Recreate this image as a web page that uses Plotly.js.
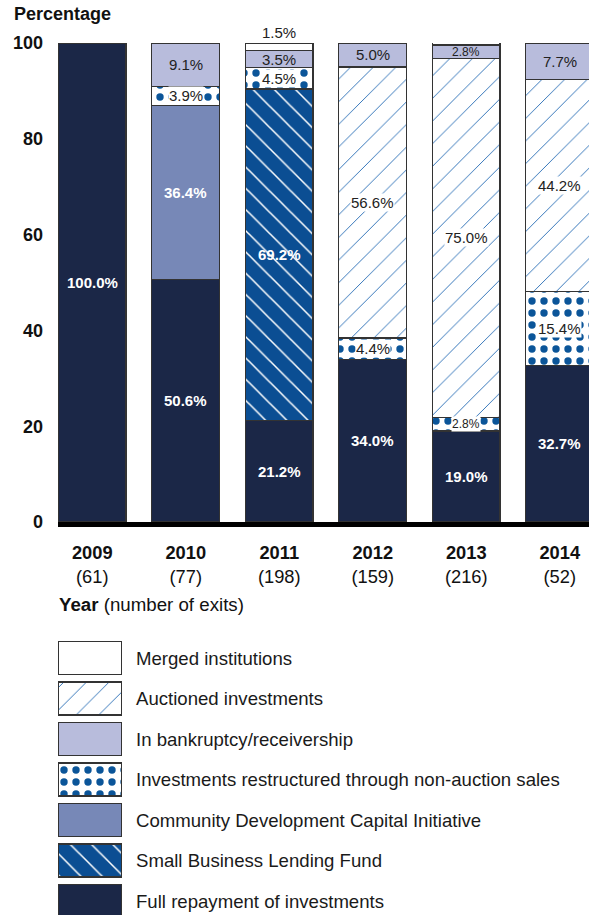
<!DOCTYPE html>
<html>
<head>
<meta charset="utf-8">
<script src="https://cdn.plot.ly/plotly-3.0.1.min.js"></script>
<style>html,body{margin:0;padding:0;background:#fff;overflow:hidden}#chart{width:589px;height:915px}</style>
</head>
<body>
<div id="chart"></div>
<script>
// ---- data ----
const years = ['2009', '2010', '2011', '2012', '2013', '2014'];
const exits = [61, 77, 198, 159, 216, 52];
const fullRepayment = [100.0, 50.6, 21.2, 34.0, 19.0, 32.7];
const smallBusinessLendingFund = [0, 0, 69.2, 0, 0, 0];
const communityDevelopment = [0, 36.4, 0, 0, 0, 0];
const restructured = [0, 3.9, 4.5, 4.4, 2.8, 15.4];
const auctioned = [0, 0, 0, 56.6, 75.0, 44.2];
const bankruptcy = [0, 9.1, 3.5, 5.0, 2.8, 7.7];
const merged = [0, 0, 1.5, 0, 0.5, 0];
const yTicks = [0, 20, 40, 60, 80, 100];
const legendOrder = ['Merged institutions', 'Auctioned investments', 'In bankruptcy/receivership',
  'Investments restructured through non-auction sales', 'Community Development Capital Initiative',
  'Small Business Lending Fund', 'Full repayment of investments'];

// ---- styles ----
const FONT = 'Liberation Sans, Arial, sans-serif';
const NAVY = '#1B2747';
const series = [
  {name: 'Full repayment of investments', y: fullRepayment, color: NAVY, pattern: null, label: 'light'},
  {name: 'Small Business Lending Fund', y: smallBusinessLendingFund, color: '#0B4E93',
    pattern: {shape: '\\', bgcolor: '#0B4E93', fgcolor: '#ffffff', size: 15, solidity: 0.1, fillmode: 'replace'}, label: 'light'},
  {name: 'Community Development Capital Initiative', y: communityDevelopment, color: '#7788B7', pattern: null, label: 'light'},
  {name: 'Investments restructured through non-auction sales', y: restructured, color: '#ffffff',
    pattern: {shape: '.', bgcolor: '#ffffff', fgcolor: '#0B5599', size: 12, solidity: 0.3, fillmode: 'replace'}, label: 'boxed'},
  {name: 'Auctioned investments', y: auctioned, color: '#ffffff',
    pattern: {shape: '/', bgcolor: '#ffffff', fgcolor: '#2F72B8', size: 16, solidity: 0.06, fillmode: 'replace'}, label: 'boxed'},
  {name: 'In bankruptcy/receivership', y: bankruptcy, color: '#B8BCDC', pattern: null, label: 'dark'},
  {name: 'Merged institutions', y: merged, color: '#ffffff', pattern: null, label: 'outside'}
];

const xIdx = years.map((_, i) => i);
const outline = {color: '#333333', width: 1.2};
function markerFor(s) {
  const m = {color: s.color, line: outline};
  if (s.pattern) m.pattern = s.pattern;
  return m;
}

const traces = [];
const annotations = [];
const cum = years.map(() => 0);
series.forEach(s => {
  traces.push({
    type: 'bar', name: s.name, x: xIdx, y: s.y.map(v => v > 0 ? v : null),
    width: 0.724, marker: markerFor(s), hoverinfo: 'skip', showlegend: false,
    xaxis: 'x', yaxis: 'y'
  });
  s.y.forEach((v, i) => {
    if (v > 0) {
      const txt = v.toFixed(1) + '%';
      const small = v < 3;
      const a = {x: i, xref: 'x', yref: 'y', showarrow: false, text: txt,
        font: {family: FONT, size: small ? 12 : 15, color: '#222'}};
      if (s.label === 'light') {
        a.y = cum[i] + v / 2; a.text = '<b>' + txt + '</b>'; a.font.color = '#ffffff';
      } else if (s.label === 'boxed') {
        a.y = cum[i] + v / 2; a.bgcolor = '#ffffff'; a.borderpad = 0;
      } else if (s.label === 'dark') {
        a.y = cum[i] + v / 2;
      } else {
        a.y = cum[i] + v; a.yanchor = 'bottom'; a.yshift = 0; a.font.size = 15;
      }
      annotations.push(a);
    }
    cum[i] += v;
  });
});

// legend swatches drawn as a small second subplot
legendOrder.forEach((name, k) => {
  const s = series.find(t => t.name === name);
  traces.push({
    type: 'bar', orientation: 'h', x: [1], y: [k], width: 0.815,
    marker: markerFor(s), hoverinfo: 'skip', showlegend: false,
    xaxis: 'x2', yaxis: 'y2'
  });
});

annotations.push({xref: 'paper', yref: 'paper', x: (12 - 58) / 531, y: (915 - 14) / 872,
  xanchor: 'left', yanchor: 'middle', showarrow: false, text: '<b>Percentage</b>',
  font: {family: FONT, size: 18, color: '#111'}});
annotations.push({xref: 'paper', yref: 'paper', x: (57 - 58) / 531, y: (915 - 604) / 872,
  xanchor: 'left', yanchor: 'middle', showarrow: false, text: '<b>Year</b> (number of exits)',
  font: {family: FONT, size: 18.7, color: '#111'}});

const layout = {
  width: 589, height: 915,
  margin: {l: 58, r: 0, t: 43, b: 0, pad: 0},
  paper_bgcolor: '#ffffff', plot_bgcolor: 'rgba(0,0,0,0)',
  barmode: 'stack', showlegend: false,
  font: {family: FONT, color: '#111'},
  xaxis: {
    domain: [0, 1], anchor: 'y', range: [-0.366, 5.313], fixedrange: true,
    tickvals: xIdx, ticktext: years.map((y, i) => '<b>' + y + '</b><br>(' + exits[i] + ')'),
    tickfont: {family: FONT, size: 18.3, color: '#111'},
    ticks: '', showgrid: false, zeroline: false,
    showline: true, linecolor: '#000', linewidth: 5, ticklabelstandoff: 10
  },
  yaxis: {
    domain: [(915 - 522) / 872, 1], anchor: 'x', range: [0, 100], fixedrange: true,
    tickvals: yTicks, tickfont: {family: FONT, size: 18, color: '#111', weight: 'bold'},
    ticks: '', showgrid: false, zeroline: false, showline: false, ticklabelstandoff: 14
  },
  xaxis2: {domain: [0, (122 - 58) / 531], anchor: 'y2', range: [0, 1], visible: false, fixedrange: true},
  yaxis2: {
    domain: [0, (915 - 620) / 872], anchor: 'x2', side: 'right', range: [6.346, -0.938], fixedrange: true,
    tickvals: legendOrder.map((_, k) => k), ticktext: legendOrder,
    tickfont: {family: FONT, size: 18.6, color: '#1a1a1a'},
    ticks: '', showgrid: false, zeroline: false, showline: false, ticklabelstandoff: 13
  },
  annotations: annotations
};

Plotly.newPlot('chart', traces, layout, {staticPlot: true, displayModeBar: false});
</script>
</body>
</html>
